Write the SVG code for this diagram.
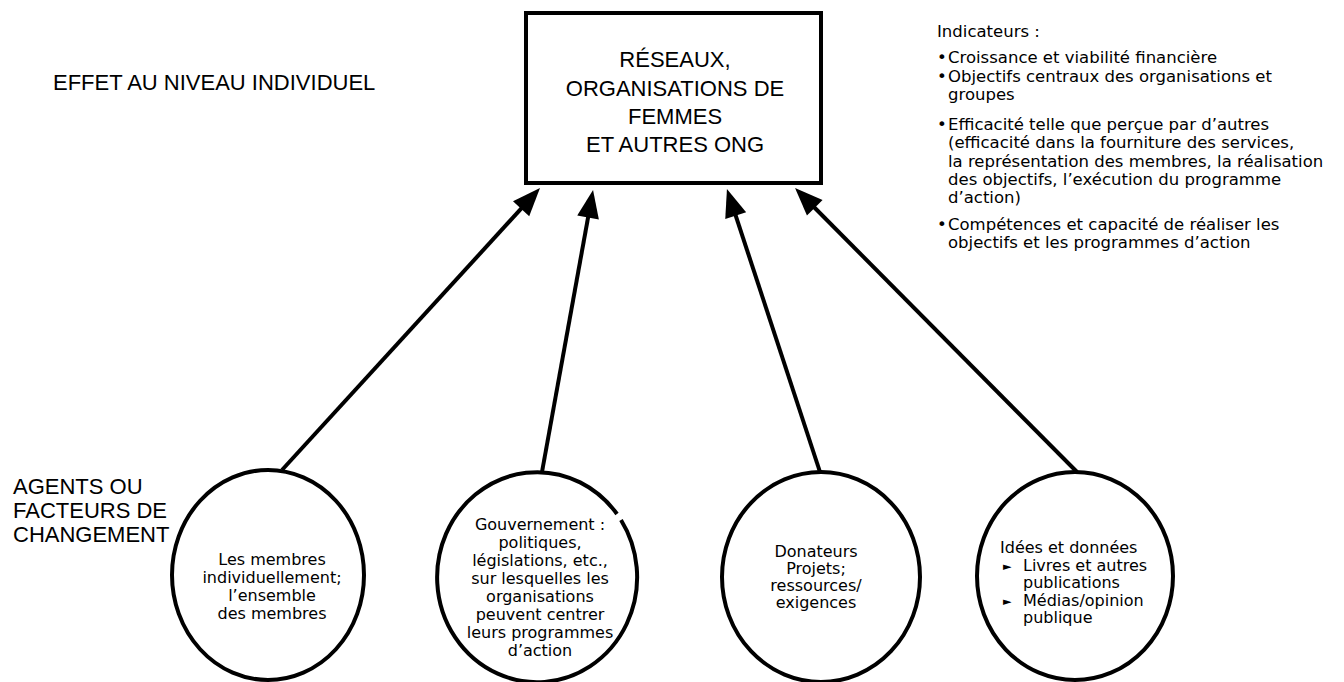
<svg xmlns="http://www.w3.org/2000/svg" width="1344" height="682" viewBox="0 0 1344 682">
  <style>
    .big { font-family: "Liberation Sans", Arial, sans-serif; font-size: 22px; fill: #000; }
    .small { font-family: "DejaVu Sans", "Liberation Sans", sans-serif; font-size: 16px; fill: #000; }
    .list { font-size: 16.5px; }
    .node { fill: #fff; stroke: #000; stroke-width: 4; }
    .link { stroke: #000; stroke-width: 4; fill: none; marker-end: url(#head); }
    .tri { font-size: 11px; }
  </style>
  <defs>
    <marker id="head" markerUnits="userSpaceOnUse" markerWidth="32" markerHeight="26" refX="16" refY="11" orient="auto" overflow="visible">
      <path d="M0,0 L28,11 L0,22 z" fill="#000"/>
    </marker>
  </defs>
  <rect width="1344" height="682" fill="#fff"/>

  <!-- side labels -->
  <g id="label-effet">
    <text class="big" x="53" y="90">EFFET AU NIVEAU INDIVIDUEL</text>
  </g>
  <g id="label-agents">
    <text class="big" x="13" y="494">AGENTS OU</text>
    <text class="big" x="13" y="518">FACTEURS DE</text>
    <text class="big" x="13" y="542">CHANGEMENT</text>
  </g>

  <!-- central box -->
  <g id="reseaux">
    <rect class="node" x="526" y="13" width="295" height="170"/>
    <text class="big" text-anchor="middle" x="675" y="67">RÉSEAUX,</text>
    <text class="big" text-anchor="middle" x="675" y="96">ORGANISATIONS DE</text>
    <text class="big" text-anchor="middle" x="675" y="124">FEMMES</text>
    <text class="big" text-anchor="middle" x="675" y="152">ET AUTRES ONG</text>
  </g>

  <!-- indicator list -->
  <g id="indicateurs" class="small list">
    <text x="937" y="37">Indicateurs :</text>
    <text x="937" y="63">•</text><text x="948" y="63">Croissance et viabilité financière</text>
    <text x="937" y="82">•</text><text x="948" y="82">Objectifs centraux des organisations et</text>
    <text x="948" y="100">groupes</text>
    <text x="937" y="130">•</text><text x="948" y="130">Efficacité telle que perçue par d’autres</text>
    <text x="948" y="148">(efficacité dans la fourniture des services,</text>
    <text x="948" y="167">la représentation des membres, la réalisation</text>
    <text x="948" y="185">des objectifs, l’exécution du programme</text>
    <text x="948" y="203">d’action)</text>
    <text x="937" y="230">•</text><text x="948" y="230">Compétences et capacité de réaliser les</text>
    <text x="948" y="248">objectifs et les programmes d’action</text>
  </g>

  <!-- connectors -->
  <g id="connectors">
    <line class="link" x1="282" y1="470" x2="531.9" y2="196.9"/>
    <line class="link" x1="542" y1="472" x2="590.9" y2="201.8"/>
    <line class="link" x1="820" y1="472" x2="730.7" y2="200.4"/>
    <line class="link" x1="1077" y1="472" x2="803.5" y2="196.5"/>
  </g>

  <!-- agents of change -->
  <g id="membres">
    <ellipse class="node" cx="268" cy="575" rx="96" ry="105"/>
    <g class="small" text-anchor="middle">
      <text x="272" y="565">Les membres</text>
      <text x="272" y="583">individuellement;</text>
      <text x="272" y="601">l’ensemble</text>
      <text x="272" y="619">des membres</text>
    </g>
  </g>

  <g id="gouvernement">
    <path class="node" d="M 621 520 A 100 105 0 1 1 617 514"/>
    <g class="small" text-anchor="middle">
      <text x="540" y="530">Gouvernement :</text>
      <text x="540" y="548">politiques,</text>
      <text x="540" y="566">législations, etc.,</text>
      <text x="540" y="584">sur lesquelles les</text>
      <text x="540" y="602">organisations</text>
      <text x="540" y="620">peuvent centrer</text>
      <text x="540" y="638">leurs programmes</text>
      <text x="540" y="656">d’action</text>
    </g>
  </g>

  <g id="donateurs">
    <ellipse class="node" cx="821" cy="577" rx="99" ry="105"/>
    <g class="small" text-anchor="middle">
      <text x="816" y="557">Donateurs</text>
      <text x="816" y="574">Projets;</text>
      <text x="816" y="591">ressources/</text>
      <text x="816" y="608">exigences</text>
    </g>
  </g>

  <g id="idees">
    <ellipse class="node" cx="1075" cy="576" rx="98" ry="104"/>
    <g class="small">
      <text x="1000" y="553">Idées et données</text>
      <text class="tri" x="1003" y="570">►</text><text x="1023" y="571">Livres et autres</text>
      <text x="1023" y="588">publications</text>
      <text class="tri" x="1003" y="605">►</text><text x="1023" y="606">Médias/opinion</text>
      <text x="1023" y="623">publique</text>
    </g>
  </g>
</svg>
